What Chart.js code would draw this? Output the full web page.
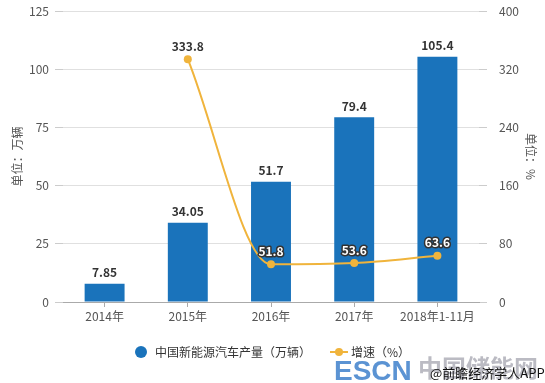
<!DOCTYPE html>
<html><head><meta charset="utf-8">
<script src="https://cdn.jsdelivr.net/npm/chart.js@4"></script>
<style>html,body{margin:0;padding:0;background:#fff}canvas{display:block}</style>
</head><body>
<canvas id="c" width="545" height="383"></canvas>
<script>
const categories = ['2014年','2015年','2016年','2017年','2018年1-11月'];
const production = [7.85, 34.05, 51.7, 79.4, 105.4];
const productionLabels = ['7.85','34.05','51.7','79.4','105.4'];
const growth = [null, 333.8, 51.8, 53.6, 63.6];
const leftTicks = [0,25,50,75,100,125];
const rightTicks = [0,80,160,240,320,400];

const FONT = '"Microsoft YaHei","Noto Sans CJK SC","Noto Sans",sans-serif';
const BAR = '#1a73bb';
const LINE = '#f0b43c';

const labelPlugin = {
  id:'labels',
  afterDatasetsDraw(chart){
    const ctx = chart.ctx;
    ctx.save();
    ctx.textAlign='center';
    ctx.textBaseline='bottom';
    ctx.font = 'bold 12px ' + FONT;
    const barMeta = chart.getDatasetMeta(1);
    barMeta.data.forEach((el,i)=>{
      ctx.fillStyle='#333';
      ctx.fillText(productionLabels[i], el.x, el.y-5);
    });
    const lineMeta = chart.getDatasetMeta(0);
    lineMeta.data.forEach((el,i)=>{
      if (growth[i]==null) return;
      const t = String(growth[i]);
      if (i===1){
        ctx.fillStyle='#333';
        ctx.fillText(t, el.x, el.y-7);
      } else {
        ctx.lineWidth=3; ctx.strokeStyle='#333'; ctx.lineJoin='round';
        ctx.strokeText(t, el.x, el.y-7);
        ctx.fillStyle='#fff';
        ctx.fillText(t, el.x, el.y-7);
      }
    });
    ctx.restore();
  },
  afterDraw(chart){
    const ctx = chart.ctx;
    ctx.save();
    // legend
    ctx.textBaseline='middle';
    ctx.textAlign='left';
    ctx.font='12px '+FONT;
    ctx.fillStyle=BAR;
    ctx.beginPath(); ctx.arc(141,352,6,0,Math.PI*2); ctx.fill();
    ctx.fillStyle='#333';
    ctx.fillText(chart.data.datasets[1].label,155,352);
    ctx.strokeStyle=LINE; ctx.lineWidth=2;
    ctx.beginPath(); ctx.moveTo(330,352); ctx.lineTo(348,352); ctx.stroke();
    ctx.fillStyle=LINE;
    ctx.beginPath(); ctx.arc(339,352,4,0,Math.PI*2); ctx.fill();
    ctx.fillStyle='#333';
    ctx.fillText(chart.data.datasets[0].label,351,352);
    // watermark
    ctx.textBaseline='alphabetic';
    ctx.font='bold 28px Arial, "Liberation Sans", sans-serif';
    ctx.fillStyle='rgba(50,120,200,0.8)';
    ctx.fillText('ESCN',334,380);
    ctx.font='bold 24px "Noto Sans CJK SC",sans-serif';
    ctx.fillStyle='rgba(120,120,135,0.5)';
    ctx.fillText('中国储能网',418,377);
    ctx.font='13px '+FONT;
    ctx.fillStyle='#111';
    ctx.fillText('@前瞻经济学人APP',430,378);
    ctx.restore();
  }
};

function noPad(s){ s.paddingTop=0; s.paddingBottom=0; }

new Chart(document.getElementById('c'), {
  data:{
    labels:categories,
    datasets:[
      {type:'line', label:'增速（%）', data:growth, yAxisID:'y2', borderColor:LINE, backgroundColor:LINE,
       borderWidth:2, pointRadius:4, pointBackgroundColor:LINE, pointBorderWidth:0,
       cubicInterpolationMode:'monotone', order:0},
      {type:'bar', label:'中国新能源汽车产量（万辆）', data:production, yAxisID:'y', backgroundColor:BAR,
       barPercentage:0.48, categoryPercentage:1, order:1}
    ]
  },
  options:{
    responsive:false, animation:false,
    layout:{padding:{top:11,bottom:51,left:6,right:7}},
    plugins:{legend:{display:false}, tooltip:{enabled:false}},
    scales:{
      x:{grid:{display:true, drawOnChartArea:false, offset:false, tickLength:5, color:'#aaa'}, border:{color:'#aaa'},
         ticks:{color:'#555', font:{family:FONT,size:12}, padding:2},
         afterFit(s){s.height=30; s.paddingLeft=0; s.paddingRight=0;}},
      y:{position:'left', min:0, max:125,
         afterBuildTicks(s){s.ticks=leftTicks.map(v=>({value:v}));},
         grid:{color:'#e0e0e0', tickLength:8, tickColor:'#ccc'}, border:{display:false},
         ticks:{color:'#555', font:{family:FONT,size:12}, padding:6},
         title:{display:true, text:'单位：万辆', color:'#555', font:{family:FONT,size:12}, padding:{top:4,bottom:0}},
         afterFit(s){s.width=57; noPad(s);}},
      y2:{position:'right', min:0, max:400,
         afterBuildTicks(s){s.ticks=rightTicks.map(v=>({value:v}));},
         grid:{drawOnChartArea:false, tickLength:8, color:'#ccc'}, border:{display:false},
         ticks:{color:'#555', font:{family:FONT,size:12}, padding:12},
         title:{display:true, text:'单位：%', color:'#555', font:{family:FONT,size:12}, padding:{top:0,bottom:6}},
         afterFit(s){s.width=59; noPad(s);}}
    }
  },
  plugins:[labelPlugin]
});
</script>
</body></html>
